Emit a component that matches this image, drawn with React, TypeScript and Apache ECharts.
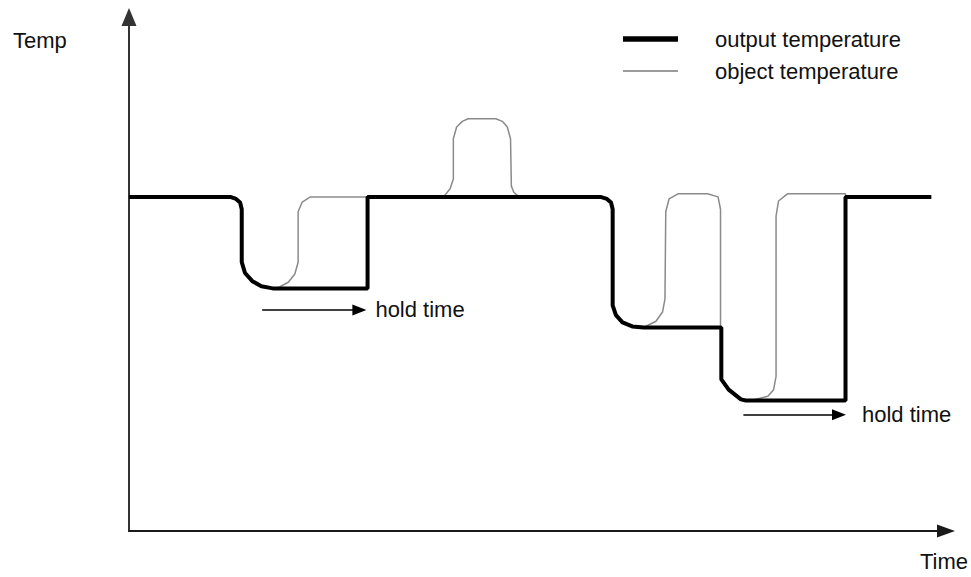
import React, { useEffect, useRef } from "react";
import * as echarts from "echarts";

const FONT = "'Liberation Sans', Arial, sans-serif";
const FONT_SIZE = 22;

const seriesNames = ["output temperature", "object temperature"];
const axisNames = ["Temp", "Time"];
const holdLabel = "hold time";

const outputTime = [0, 12.4, 13.1, 13.6, 13.8, 13.8, 14.2, 15.1, 16.2, 17.6, 29.2, 29.2, 57.7, 58.5, 59.0, 59.2, 59.2, 59.6, 60.4, 61.6, 63.0, 72.5, 72.5, 73.4, 74.9, 75.5, 87.7, 87.7, 98.2];
const outputTemp = [65, 65, 64.6, 63.9, 62.6, 52.3, 50.2, 48.6, 47.6, 47.2, 47.2, 65, 65, 64.6, 63.9, 62.6, 43.9, 42.0, 40.6, 39.8, 39.6, 39.6, 29.5, 27.5, 25.6, 25.4, 25.4, 65, 65];

const objectTime = [
  0, 12.4, 13.1, 13.6, 13.8, 13.8, 14.2, 15.1, 16.2, 18.1,
  19.5, 20.3, 20.7, 20.7, 21.2, 22.2, 23.0,
  38.5, 39.3, 39.7, 39.7, 40.1, 40.8, 41.5, 44.9, 45.7, 46.3, 46.7, 46.8, 47.1, 47.7,
  57.7, 58.5, 59.0, 59.2, 59.2, 59.6, 60.4, 61.6, 63.0,
  64.5, 65.3, 65.6, 65.7, 66.1, 67.2, 70.8, 72.1, 72.4, 72.4,
  72.5, 72.5, 73.4, 74.9, 76.1,
  78.2, 78.9, 79.2, 79.2, 79.5, 80.6, 81.8, 87.7, 87.7, 98.2,
];
const objectTemp = [
  65, 65, 64.6, 63.9, 62.6, 52.3, 50.2, 48.6, 47.6, 47.2,
  48.4, 50.0, 52.3, 62.1, 64.0, 65, 65,
  65, 66.6, 68.5, 76.3, 78.6, 79.7, 80.2, 80.2, 79.7, 78.6, 76.3, 67.1, 65.9, 65,
  65, 64.6, 63.9, 62.6, 43.9, 42.0, 40.6, 39.8, 39.6,
  40.8, 42.6, 45.1, 62.1, 64.6, 65.6, 65.6, 65.0, 62.6, 39.6,
  39.6, 29.5, 27.5, 25.6, 25.4,
  26.2, 27.5, 30.1, 61.3, 64.2, 65.6, 65.6, 65.6, 65, 65,
];

// hold time arrows: [startTime, endTime, level]
const holdArrow1 = [16.3, 28.2, 43.0];
const holdArrow2 = [75.2, 86.9, 22.6];

const zip = (xs: number[], ys: number[]) => xs.map((x, i) => [x, ys[i]]);

export default function App() {
  const ref = useRef<HTMLDivElement>(null);
  useEffect(() => {
    document.body.style.margin = "0";
    if (!ref.current) return;
    const chart = echarts.init(ref.current, null, { renderer: "svg" });
    const labelStyle = { fontFamily: FONT, fontSize: FONT_SIZE, color: "#111" };
    chart.setOption({
      animation: false,
      backgroundColor: "#fff",
      grid: { left: 129, right: 25, top: 17, bottom: 46 },
      legend: {
        orient: "vertical",
        left: 618,
        top: 23,
        itemWidth: 55,
        itemHeight: 20,
        itemGap: 10,
        selectedMode: false,
        symbolKeepAspect: true,
        data: [
          { name: seriesNames[0], icon: "path://M0,0H55V5.5H0Z", itemStyle: { color: "#000" } },
          { name: seriesNames[1], icon: "path://M0,0H55V1.6H0Z", itemStyle: { color: "#7a7a7a" } },
        ],
        textStyle: { ...labelStyle, lineHeight: 20, padding: [0, 0, 0, 32] },
      },
      xAxis: {
        type: "value",
        min: 0,
        max: 100,
        axisLabel: { show: false },
        axisTick: { show: false },
        splitLine: { show: false },
        axisLine: {
          show: true,
          symbol: ["none", "triangle"],
          symbolSize: [13, 18],
          lineStyle: { color: "#1a1a1a", width: 2 },
        },
      },
      yAxis: {
        type: "value",
        min: 0,
        max: 100,
        axisLabel: { show: false },
        axisTick: { show: false },
        splitLine: { show: false },
        axisLine: {
          show: true,
          symbol: ["none", "triangle"],
          symbolSize: [15, 18],
          lineStyle: { color: "#333", width: 2 },
        },
      },
      graphic: [
        { type: "text", left: 13, top: 29, style: { text: axisNames[0], font: `${FONT_SIZE}px ${FONT}`, fill: "#111" } },
        { type: "text", left: 920, top: 550, style: { text: axisNames[1], font: `${FONT_SIZE}px ${FONT}`, fill: "#111" } },
      ],
      series: [
        {
          name: seriesNames[1],
          type: "line",
          data: zip(objectTime, objectTemp),
          symbol: "none",
          lineStyle: { color: "#8a8a8a", width: 1.5 },
          itemStyle: { color: "#8a8a8a" },
          z: 2,
        },
        {
          name: seriesNames[0],
          type: "line",
          data: zip(outputTime, outputTemp),
          symbol: "none",
          lineStyle: { color: "#000", width: 4 },
          itemStyle: { color: "#000" },
          z: 3,
          markLine: {
            silent: true,
            symbol: ["none", "triangle"],
            symbolSize: [11, 14],
            lineStyle: { color: "#000", width: 1.5, type: "solid" },
            label: { show: true, position: "end", formatter: holdLabel, ...labelStyle },
            data: [
              [
                { coord: [holdArrow1[0], holdArrow1[2]], label: { distance: 16 } },
                { coord: [holdArrow1[1], holdArrow1[2]] },
              ],
              [
                { coord: [holdArrow2[0], holdArrow2[2]], label: { distance: 23 } },
                { coord: [holdArrow2[1], holdArrow2[2]] },
              ],
            ],
          },
        },
      ],
    });
    return () => chart.dispose();
  }, []);
  return <div ref={ref} style={{ width: 971, height: 577 }} />;
}
